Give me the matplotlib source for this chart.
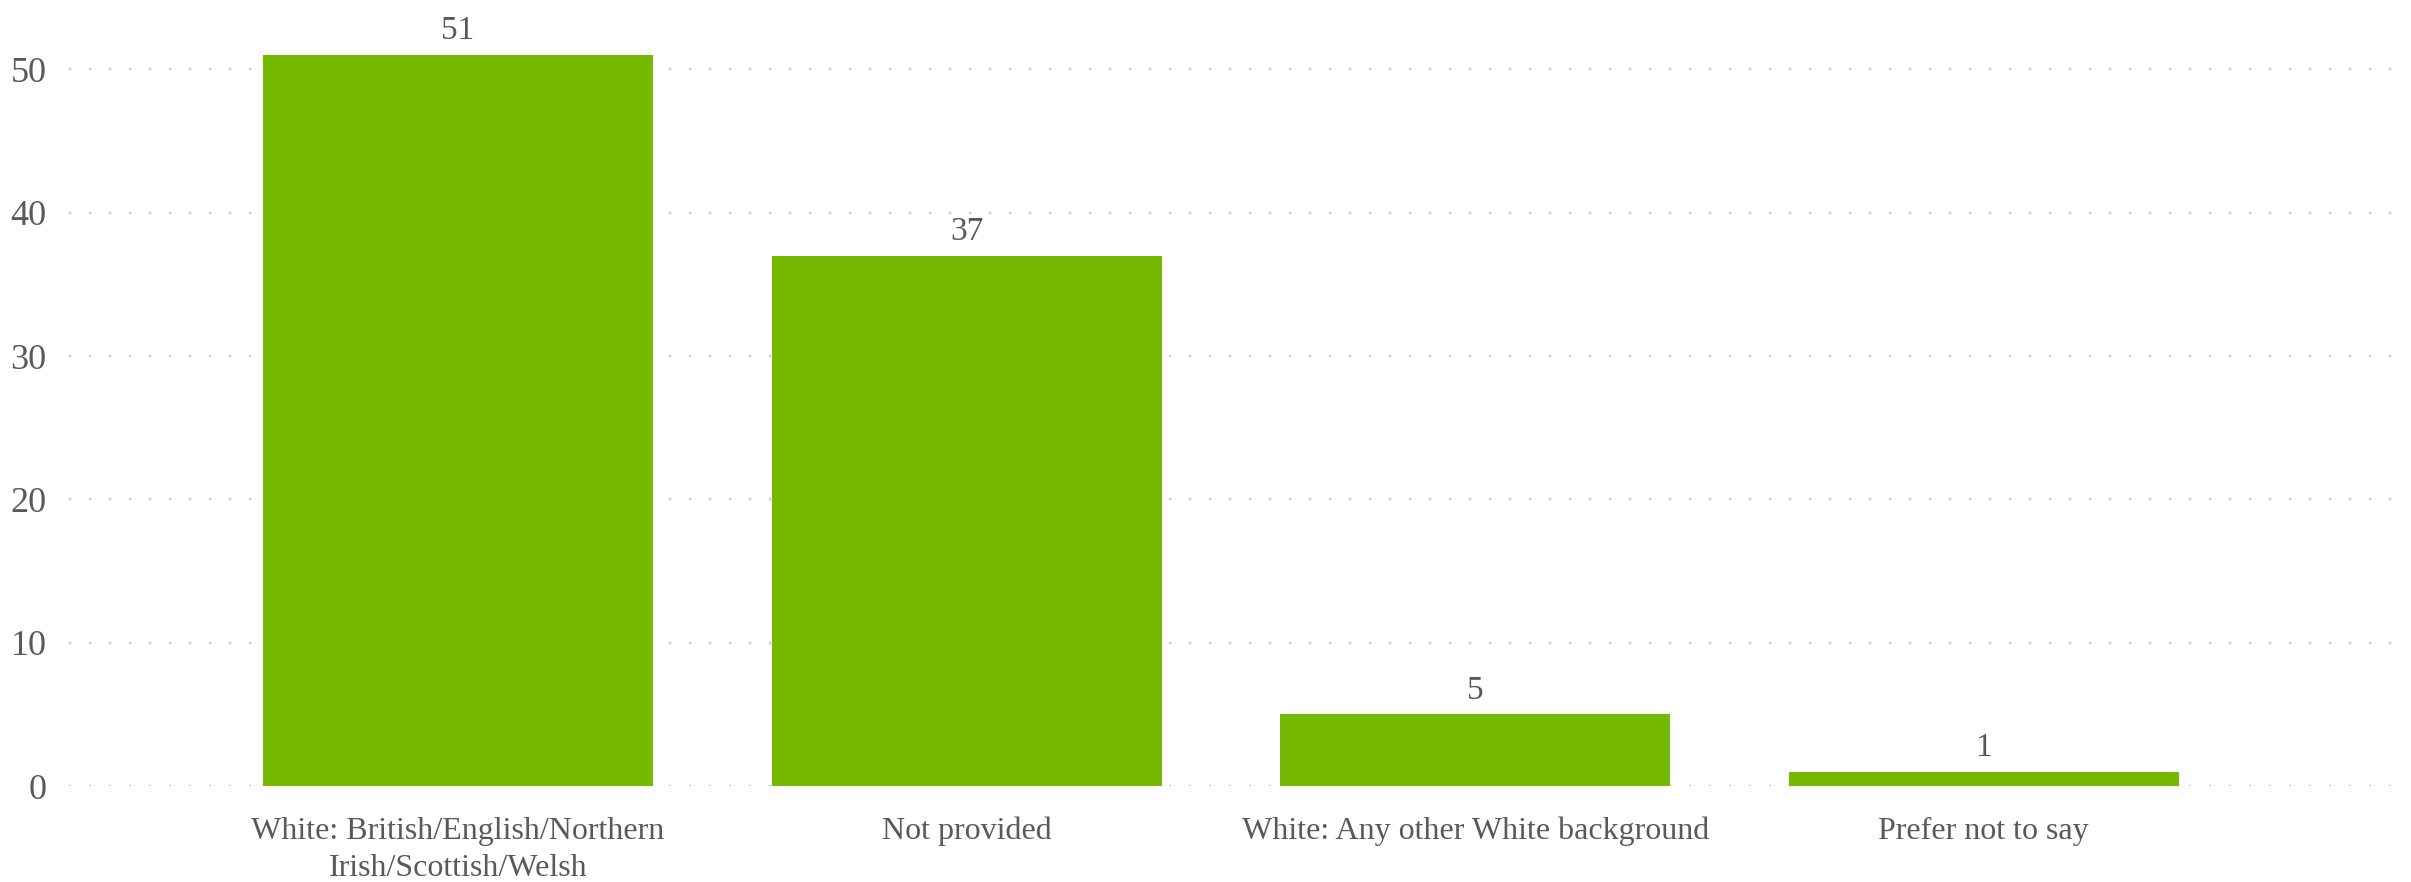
import matplotlib.pyplot as plt

# Ethnicity counts
categories = ["White: British/English/Northern\nIrish/Scottish/Welsh",
              "Not provided",
              "White: Any other White background",
              "Prefer not to say"]
counts = [51, 37, 5, 1]
yticks = [0, 10, 20, 30, 40, 50]

plt.rcParams['font.family'] = ['Liberation Serif', 'DejaVu Serif']
text_col = '#595959'
bar_col = '#75b900'

fig = plt.figure(figsize=(24.11, 8.82), dpi=100)
ax = fig.add_axes([0.0286, 0.1088, 0.9644, 0.8775])

x = range(len(categories))
bars = ax.bar(x, counts, width=0.767, color=bar_col, zorder=2)

# value labels above bars
for b, v in zip(bars, counts):
    ax.text(b.get_x() + b.get_width() / 2, v + 0.6, str(v),
            ha='center', va='bottom', fontsize=24, color=text_col)

ax.set_xlim(-0.765, 3.807)
ax.set_ylim(0, 54)
ax.set_yticks(yticks)
ax.set_xticks(list(x))
ax.set_xticklabels(categories, fontsize=23, color=text_col, linespacing=1.36)
ax.tick_params(axis='y', labelsize=26, labelcolor=text_col, length=0, pad=16)
ax.tick_params(axis='x', length=0, pad=22)

ax.grid(axis='y', linestyle=(0, (1, 8)), color='#c8c8c8', linewidth=1.6, zorder=0)
for s in ax.spines.values():
    s.set_visible(False)

fig.savefig('out.png', dpi=100)
